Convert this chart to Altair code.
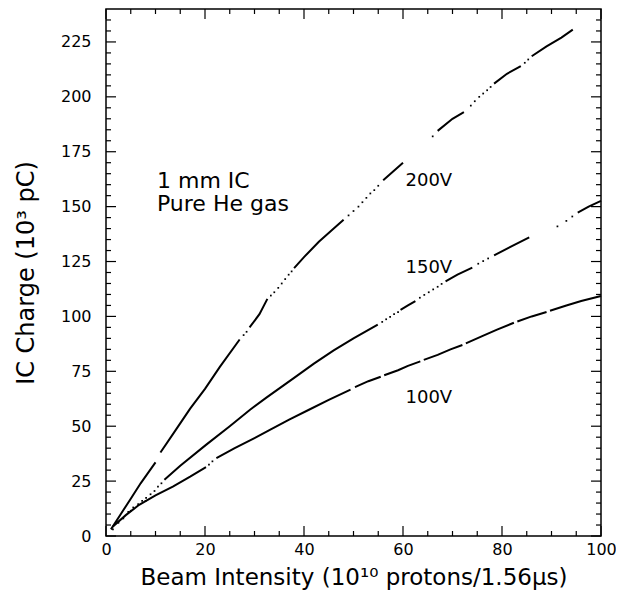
import altair as alt
import pandas as pd

# ---------------- data ----------------
# 200 V curve: dense segments (x, y, segment id) and sparse isolated dots
V200_X = [1, 3, 5, 7, 10,
          11, 14, 17, 20, 23, 27,
          29, 31, 32.6,
          38, 40, 43, 46, 48,
          56, 58, 60,
          67, 70, 72.3,
          78.4, 81, 83.8,
          86, 89, 92, 94.3]
V200_Y = [3, 10, 17, 24, 33.5,
          38, 48, 58, 67, 77, 89.5,
          95, 101, 108,
          122, 127, 134, 140, 144,
          162, 166, 170,
          184.5, 190, 193,
          206, 210.5, 214,
          218.5, 223, 227, 230.6]
V200_SEG = [1] * 5 + [2] * 6 + [3] * 3 + [4] * 5 + [5] * 3 + [6] * 3 + [7] * 3 + [8] * 4
V200_DOT_X = [27.8, 28.4, 33.3, 34, 34.8, 35.5, 36.2, 36.9, 37.5, 49, 50, 51, 51.8, 52.6, 53.4, 54.2, 55,
              66, 73.7, 74.5, 75.4, 76.2, 77, 77.7, 84.6, 85.3]
V200_DOT_Y = [91.5, 93, 109.5, 111, 113, 115, 117, 119, 120.5, 146, 148, 150, 152, 154, 156, 157.5, 159.5,
              182, 196, 198, 200, 201.5, 203, 204.5, 215.5, 217]

# 150 V curve
V150_X = [11.8, 15, 20.2, 25, 29.1, 32.4, 38, 42, 46, 50, 54.9,
          59.5, 61, 62.5,
          68.6, 71, 74,
          78.4, 82, 85.5,
          95.3, 97.5, 100]
V150_Y = [25.6, 32, 41.5, 50, 57.5, 63, 72, 78.5, 84.5, 90, 96.3,
          103, 105, 107,
          116, 119, 122.2,
          127.8, 132, 136,
          147.3, 150, 152.6]
V150_SEG = [1] * 11 + [2] * 3 + [3] * 3 + [4] * 3 + [5] * 3
V150_DOT_X = [1.4, 2.5, 3.5, 4.5, 5.5, 6.5, 7.3, 8.1, 9, 9.8, 10.5, 11.2,
              55.8, 56.6, 57.4, 58.2, 59, 63.4, 64.3, 65.2, 66.1, 67, 67.8, 75.2, 76.2, 77.2, 91.2, 93, 94.2]
V150_DOT_Y = [3, 6, 8, 11, 13, 14.5, 16, 17.4, 19, 20.5, 22.5, 24,
              97.5, 98.7, 99.8, 101, 102, 108.5, 109.8, 111, 112.3, 113.5, 114.8, 124, 125.2, 126.4, 141, 143.5, 145.5]

# 100 V curve
V100_X = [1.4, 4, 6.7, 10, 13.5, 17, 20.2,
          22.3, 26, 29.5, 33.2, 37, 41, 45, 49.4,
          50.3, 53, 55.5,
          56.2, 59, 61, 63.5,
          64.2, 67, 69.6, 72,
          72.7, 76, 79, 82.4,
          83.1, 86, 89,
          89.7, 93, 96, 100]
V100_Y = [4.3, 9.5, 14.2, 18.5, 22.5, 27, 31.4,
          35.5, 40, 44, 48.4, 53, 57.5, 62, 66.7,
          67.8, 70.5, 72.5,
          73.2, 75.5, 77.5, 79.5,
          80.2, 82.5, 85, 87,
          87.7, 91, 94, 97.1,
          97.7, 100, 102,
          102.6, 105, 107, 109.3]
V100_SEG = [1] * 7 + [2] * 8 + [3] * 3 + [4] * 4 + [5] * 4 + [6] * 4 + [7] * 3 + [8] * 4
V100_DOT_X = [2.5, 5, 8, 20.8, 21.5]
V100_DOT_Y = [6.5, 11.5, 16, 32.5, 34]

# annotations
LABEL_TEXT = ["200V", "150V", "100V"]
LABEL_X = [60.5, 60.5, 60.5]
LABEL_Y = [161.5, 122, 63]
NOTE_TEXT = ["1 mm IC", "Pure He gas"]
NOTE_X = [10.3, 10.3]
NOTE_Y = [161.5, 151]

# axes
X_MAJOR = [0, 20, 40, 60, 80, 100]
X_MINOR = [v for v in range(0, 101, 5) if v % 20]
Y_MAJOR = [0, 25, 50, 75, 100, 125, 150, 175, 200, 225]
Y_MINOR = [v for v in range(0, 240, 5) if v % 25]

# ---------------- tables ----------------
def lines(name, xs, ys, segs):
    return pd.DataFrame({"x": xs, "y": ys, "seg": [f"{name}-{s}" for s in segs]})

def dots(xs, ys):
    return pd.DataFrame({"x": xs, "y": ys})

line_df = pd.concat([
    lines("200V", V200_X, V200_Y, V200_SEG),
    lines("150V", V150_X, V150_Y, V150_SEG),
    lines("100V", V100_X, V100_Y, V100_SEG),
])
dot_df = pd.concat([
    dots(V200_DOT_X, V200_DOT_Y),
    dots(V150_DOT_X, V150_DOT_Y),
    dots(V100_DOT_X, V100_DOT_Y),
])
label_df = pd.DataFrame({"x": LABEL_X, "y": LABEL_Y, "t": LABEL_TEXT})
note_df = pd.DataFrame({"x": NOTE_X, "y": NOTE_Y, "t": NOTE_TEXT})

W, H = 495, 527
FONT = "DejaVu Sans"
xs = alt.Scale(domain=[0, 100], nice=False, zero=False)
ys = alt.Scale(domain=[0, 240], nice=False, zero=False)
XAX = alt.Axis(values=X_MAJOR, title="Beam Intensity (10¹⁰ protons/1.56μs)", labelPadding=5,
               titlePadding=9, titleFontSize=23, labelFlush=False)
YAX = alt.Axis(values=Y_MAJOR, title="IC Charge (10³ pC)", labelPadding=15,
               titleX=-68, titleBaseline="bottom", titleFontSize=24, labelFlush=False)

def X(f="x"):
    return alt.X(f + ":Q", scale=xs, axis=XAX)

def Y(f="y"):
    return alt.Y(f + ":Q", scale=ys, axis=YAX)

main = alt.Chart(line_df).mark_line(color="black", strokeWidth=2).encode(
    x=X(), y=Y(), detail="seg:N",
)

pts = alt.Chart(dot_df).mark_square(color="black", size=3, opacity=1).encode(x=X(), y=Y())

labels = alt.Chart(label_df).mark_text(align="left", baseline="middle", fontSize=18, font=FONT, color="black").encode(
    x=X(), y=Y(), text="t:N"
)
notes = alt.Chart(note_df).mark_text(align="left", baseline="middle", fontSize=22, font=FONT, color="black").encode(
    x=X(), y=Y(), text="t:N"
)

def xticks(vals, length, top):
    df = pd.DataFrame({"x": vals})
    y0 = 0 if top else H
    y1 = length if top else H - length
    return alt.Chart(df).mark_rule(color="black", strokeWidth=1.2).encode(
        x=X(), y=alt.value(y0), y2=alt.value(y1))

def yticks(vals, length, right):
    df = pd.DataFrame({"y": vals})
    x0 = W if right else 0
    x1 = W - length if right else length
    return alt.Chart(df).mark_rule(color="black", strokeWidth=1.2).encode(
        y=Y(), x=alt.value(x0), x2=alt.value(x1))

tick_layers = [
    xticks(X_MAJOR, 10, False), xticks(X_MINOR, 5, False),
    xticks(X_MAJOR, 10, True), xticks(X_MINOR, 5, True),
    yticks(Y_MAJOR, 10, False), yticks(Y_MINOR, 5, False),
    yticks(Y_MAJOR, 10, True), yticks(Y_MINOR, 5, True),
]

chart = alt.layer(main, pts, labels, notes, *tick_layers).properties(
    width=W, height=H,
    padding={"left": 98, "top": 1, "right": 15, "bottom": 55},
    autosize=alt.AutoSizeParams(type="none"),
).configure_view(
    stroke="black", strokeWidth=1.5
).configure_axis(
    grid=False, ticks=False, domain=False,
    labelFont=FONT, labelFontSize=16, labelColor="black",
    titleFont=FONT, titleFontWeight="normal", titleColor="black",
)

chart.save("out.html", embed_options={"renderer": "svg", "actions": False})
